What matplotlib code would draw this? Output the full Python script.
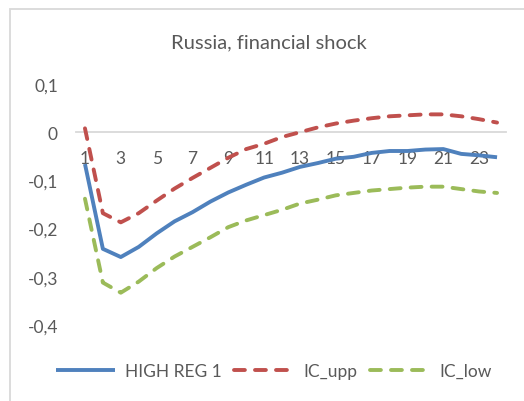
import matplotlib
matplotlib.use("Agg")
import matplotlib.pyplot as plt
from matplotlib.patches import Rectangle

periods = list(range(1, 25))
high_reg1 = [-0.066, -0.242, -0.259, -0.238, -0.210, -0.185, -0.166, -0.144, -0.125, -0.109,
             -0.094, -0.084, -0.072, -0.064, -0.055, -0.051, -0.043, -0.039, -0.039, -0.036,
             -0.035, -0.045, -0.048, -0.052]
ic_upp = [0.008, -0.168, -0.187, -0.168, -0.142, -0.117, -0.095, -0.074, -0.053, -0.035,
          -0.024, -0.010, 0.000, 0.010, 0.018, 0.024, 0.029, 0.033, 0.035, 0.037,
          0.037, 0.033, 0.027, 0.020]
ic_low = [-0.138, -0.312, -0.333, -0.310, -0.282, -0.258, -0.238, -0.218, -0.197, -0.183,
          -0.172, -0.161, -0.148, -0.140, -0.131, -0.126, -0.121, -0.118, -0.115, -0.113,
          -0.113, -0.118, -0.123, -0.126]
yticks = [0.1, 0.0, -0.1, -0.2, -0.3, -0.4]
ytick_labels = ["0,1", "0", "-0,1", "-0,2", "-0,3", "-0,4"]
xtick_pos = list(range(1, 25, 2))
title = "Russia, financial shock"

plt.rcParams['font.family'] = ['Lato', 'DejaVu Sans']
txt = '#595959'

fig = plt.figure(figsize=(5.24, 4.02), dpi=100)
fig.patches.append(Rectangle((10/524, -0.1), 1.2, 1 - 9.5/402 + 0.1, transform=fig.transFigure,
                             fill=False, edgecolor='#d9d9d9', linewidth=1.3))
ax = fig.add_axes([76/524, 1 - 326/402, (506 - 76)/524, (326 - 85)/402])

lw = 2.8
ax.plot(periods, high_reg1, color='#4F81BD', lw=lw, label='HIGH REG 1', solid_capstyle='butt', zorder=3)
ax.plot(periods, ic_upp, color='#C0504D', lw=lw, label='IC_upp', dashes=(2.8, 2.6),
        dash_capstyle='round', zorder=3)
ax.plot(periods, ic_low, color='#9BBB59', lw=lw, label='IC_low', dashes=(2.8, 2.6),
        dash_capstyle='round', zorder=3)

ax.set_xlim(0.5, 24.5)
ax.set_ylim(-0.4, 0.1)
ax.set_yticks(yticks)
ax.set_yticklabels(ytick_labels)
ax.set_xticks(xtick_pos)
ax.set_xticklabels([str(p) for p in xtick_pos])
for s in ['top', 'right', 'left']:
    ax.spines[s].set_visible(False)
ax.spines['bottom'].set_position(('data', 0))
ax.spines['bottom'].set_color('#d9d9d9')
ax.spines['bottom'].set_linewidth(1.3)
ax.spines['bottom'].set_zorder(1)
ax.tick_params(axis='both', length=0, labelsize=12.5, labelcolor=txt)
ax.tick_params(axis='y', pad=13)
ax.tick_params(axis='x', pad=13)

fig.text(0.513, 1 - 43/402, title, ha='center', va='center', fontsize=14.5, color=txt)

fig.legend(loc='center', bbox_to_anchor=(0.522, 1 - 372/402), ncol=3, frameon=False,
           fontsize=12.5, labelcolor=txt, handlelength=3.4, handletextpad=0.6, columnspacing=0.7)

fig.savefig('out.png', dpi=100)
